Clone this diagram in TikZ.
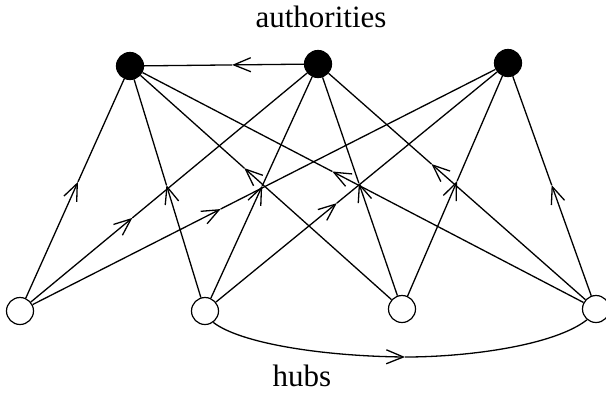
\documentclass[tikz,border=0pt]{standalone}
\usepackage{fontspec}
\setmainfont{Liberation Serif}
\usetikzlibrary{arrows.meta,calc}
\begin{document}
\begin{tikzpicture}[x=1bp,y=-1bp,
  auth/.style={circle,fill=black,draw=black,line width=1.2bp,minimum size=27bp,inner sep=0pt},
  hub/.style={circle,draw=black,fill=white,line width=1.2bp,minimum size=27bp,inner sep=0pt},
  lbl/.style={font=\fontsize{31bp}{37bp}\selectfont,anchor=base,inner sep=0pt},
  link/.style={line width=1.3bp},
  >={Straight Barb[length=17bp,width=14bp]}]
\useasboundingbox (0,0) rectangle (606,394);
% nodes
\node[auth] (a1) at (130,66) {};
\node[auth] (a2) at (318,64) {};
\node[auth] (a3) at (508,63) {};
\node[hub] (h1) at (20,311) {};
\node[hub] (h2) at (205,311) {};
\node[hub] (h3) at (402,309) {};
\node[hub] (h4) at (596,309) {};
\node[lbl] (ta) at (321,27) {authorities};
\node[lbl] (th) at (302,386) {hubs};
% arrow positions
\coordinate (m11) at ($(h1)!0.527!(a1)$);
\coordinate (m12) at ($(h1)!0.377!(a2)$);
\coordinate (m13) at ($(h1)!0.411!(a3)$);
\coordinate (m21) at ($(h2)!0.514!(a1)$);
\coordinate (m22) at ($(h2)!0.506!(a2)$);
\coordinate (m23) at ($(h2)!0.435!(a3)$);
\coordinate (m31) at ($(h3)!0.58!(a1)$);
\coordinate (m32) at ($(h3)!0.514!(a2)$);
\coordinate (m33) at ($(h3)!0.52!(a3)$);
\coordinate (m41) at ($(h4)!0.566!(a1)$);
\coordinate (m42) at ($(h4)!0.592!(a2)$);
\coordinate (m43) at ($(h4)!0.504!(a3)$);
\coordinate (maa) at ($(a2)!0.457!(a1)$);
\coordinate (mhh) at (405,357);
% edges hub -> authority
\foreach \h/\a in {1/1,1/2,1/3,2/1,2/2,2/3,3/1,3/2,3/3,4/1,4/2,4/3}{
  \draw[link,->] (h\h) -- (m\h\a);
  \draw[link] (m\h\a) -- (a\a);
}
% authority -> authority
\draw[link,->] (a2) -- (maa);
\draw[link] (maa) -- (a1);
% hub -> hub curve
\draw[link,->] (h2.-54) .. controls (240,343) and (320,356) .. (mhh);
\draw[link] (mhh) .. controls (470,357) and (555,345) .. (h4.-130);
\end{tikzpicture}
\end{document}
